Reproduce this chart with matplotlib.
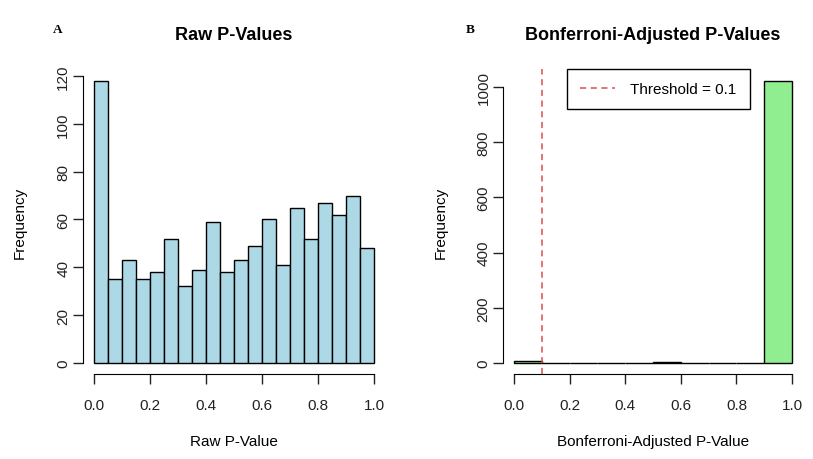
import numpy as np
import matplotlib
matplotlib.use('Agg')
import matplotlib.pyplot as plt

plt.rcParams['font.family'] = ['Liberation Sans', 'DejaVu Sans']

# histogram counts
raw_edges = np.linspace(0, 1, 21)
raw_counts = [118, 35, 43, 35, 38, 52, 32, 39, 59, 38,
              43, 49, 60, 41, 65, 52, 67, 62, 70, 48]

adj_edges = np.linspace(0, 1, 11)
adj_counts = [8, 0, 0, 0, 0, 3, 0, 0, 0, 1022]

threshold = 0.1
x_ticks = [0.0, 0.2, 0.4, 0.6, 0.8, 1.0]
raw_yticks = [0, 20, 40, 60, 80, 100, 120]
adj_yticks = [0, 200, 400, 600, 800, 1000]

fig = plt.figure(figsize=(8.13, 4.6), dpi=100)
ax1 = fig.add_axes([0.1018, 0.184, 0.372, 0.663])
ax2 = fig.add_axes([0.6186, 0.184, 0.3693, 0.663])


def r_style(ax, counts, yticks):
    top = max(counts)
    ax.set_xlim(-0.04, 1.04)
    ax.set_ylim(-0.04 * top, 1.04 * top)
    for s in ['top', 'right']:
        ax.spines[s].set_visible(False)
    ax.spines['left'].set_bounds(yticks[0], yticks[-1])
    ax.spines['bottom'].set_bounds(0, 1)
    ax.set_xticks(x_ticks)
    ax.set_xticklabels(['%.1f' % t for t in x_ticks])
    ax.set_yticks(yticks)
    ax.set_yticklabels([str(t) for t in yticks], rotation=90, va='center')
    ax.tick_params(axis='both', length=7, width=1, labelsize=11, colors='#222222', pad=10)
    ax.tick_params(axis='y', pad=2)


ax1.bar(raw_edges[:-1], raw_counts, width=0.05, align='edge',
        color='#ADD8E6', edgecolor='black', linewidth=1)
r_style(ax1, raw_counts, raw_yticks)
ax1.set_title('Raw P-Values', fontsize=13, fontweight='bold', pad=22)
ax1.set_xlabel('Raw P-Value', fontsize=11, labelpad=16)
ax1.set_ylabel('Frequency', fontsize=11, labelpad=21)

ax2.bar(adj_edges[:-1], adj_counts, width=0.1, align='edge',
        color='#90EE90', edgecolor='black', linewidth=1)
r_style(ax2, adj_counts, adj_yticks)
ax2.axvline(threshold, color='#d94f4f', linestyle=(0, (4, 3)), linewidth=1.1,
            label='Threshold = 0.1')
ax2.set_title('Bonferroni-Adjusted P-Values', fontsize=13, fontweight='bold', pad=22)
ax2.set_xlabel('Bonferroni-Adjusted P-Value', fontsize=11, labelpad=16)
ax2.set_ylabel('Frequency', fontsize=11, labelpad=21)
leg = ax2.legend(loc='upper left', bbox_to_anchor=(0.2135, 1.0), borderaxespad=0,
                 fontsize=11, fancybox=False, edgecolor='black', framealpha=1,
                 handlelength=2.3, borderpad=0.85, handletextpad=1.0)
leg.get_frame().set_linewidth(1)

fig.text(0.065, 0.929, 'A', family='Liberation Serif', fontweight='bold', fontsize=9.5)
fig.text(0.573, 0.929, 'B', family='Liberation Serif', fontweight='bold', fontsize=9.5)

fig.savefig('out.png', dpi=100)
